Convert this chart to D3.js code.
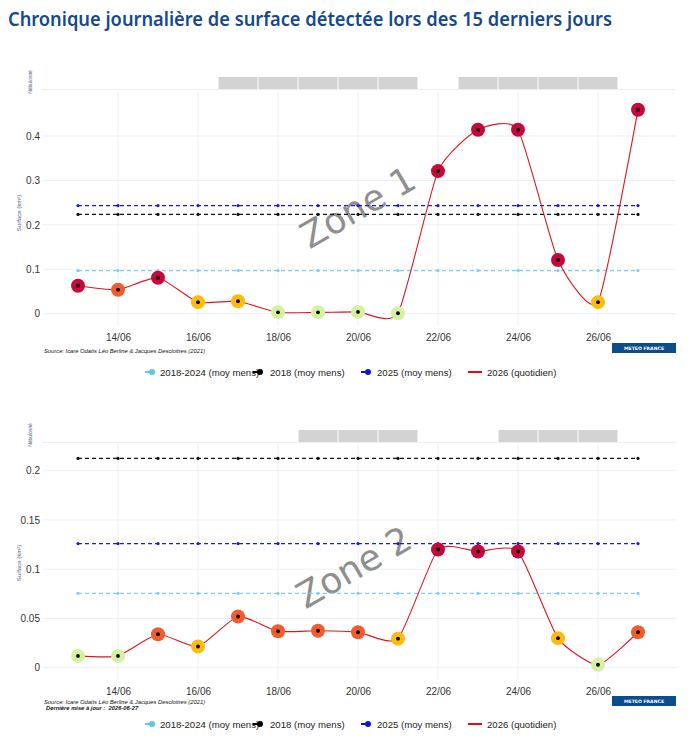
<!DOCTYPE html>
<html>
<head>
<meta charset="utf-8">
<script src="https://cdn.jsdelivr.net/npm/d3@7"></script>
<style>
  body { margin: 0; background: #fff; }
  svg { display: block; }
</style>
</head>
<body>
<div id="vis"></div>
<script>
// Declare data
const DAYS = ["2026-06-13", "2026-06-14", "2026-06-15", "2026-06-16", "2026-06-17",
              "2026-06-18", "2026-06-19", "2026-06-20", "2026-06-21", "2026-06-22",
              "2026-06-23", "2026-06-24", "2026-06-25", "2026-06-26", "2026-06-27"];
const X_TICKS = ["2026-06-14", "2026-06-16", "2026-06-18", "2026-06-20",
                 "2026-06-22", "2026-06-24", "2026-06-26"];

const ZONE1_VALUES = [0.063, 0.054, 0.081, 0.026, 0.028, 0.003, 0.003, 0.004, 0.001,
                      0.321, 0.414, 0.414, 0.121, 0.026, 0.459];
const ZONE1_CLASSES = ["c", "o", "c", "y", "y", "g", "g", "g", "g", "c", "c", "c", "c", "y", "c"];
const ZONE1_MEANS = [0.097, 0.2235, 0.2435];   // 2018-2024, 2018, 2025
const ZONE1_CLOUDY = ["2026-06-17", "2026-06-18", "2026-06-19", "2026-06-20", "2026-06-21",
                      "2026-06-23", "2026-06-24", "2026-06-25", "2026-06-26"];
const ZONE1_Y_TICKS = [0, 0.1, 0.2, 0.3, 0.4];

const ZONE2_VALUES = [0.012, 0.012, 0.034, 0.0215, 0.052, 0.037, 0.0375, 0.036, 0.0295,
                      0.120, 0.118, 0.118, 0.030, 0.003, 0.036];
const ZONE2_CLASSES = ["g", "g", "o", "y", "o", "o", "o", "o", "y", "c", "c", "c", "y", "g", "o"];
const ZONE2_MEANS = [0.0755, 0.2125, 0.126];
const ZONE2_CLOUDY = ["2026-06-19", "2026-06-20", "2026-06-21",
                      "2026-06-24", "2026-06-25", "2026-06-26"];
const ZONE2_Y_TICKS = [0, 0.05, 0.1, 0.15, 0.2];

const LEGEND = ["2018-2024 (moy mens)", "2018 (moy mens)", "2025 (moy mens)", "2026 (quotidien)"];

// Declare constants
const FRAME_WIDTH = 688;
const FRAME_HEIGHT = 738;
const MEAN_COLORS = ["#7fd0ee", "#111111", "#1a1ad0"];
const LEGEND_COLORS = ["#5cc3ee", "#000000", "#1010e0", "#e00b0b"];
const POINT_COLORS = {c: "#c6093b", o: "#f45b2c", y: "#fbbc0c", g: "#d5f1a0"};
const GRID = "#ebeff5";
const parse = d3.timeParse("%Y-%m-%d");

const SVG = d3.select("#vis")
  .append("svg")
    .attr("width", FRAME_WIDTH)
    .attr("height", FRAME_HEIGHT);

SVG.append("text")
  .attr("x", 8)
  .attr("y", 26)
  .attr("font-family", "Noto Sans")
  .attr("font-weight", 600)
  .attr("font-size", "20px")
  .attr("fill", "#16498a")
  .attr("textLength", 604)
  .attr("lengthAdjust", "spacingAndGlyphs")
  .text("Chronique journalière de surface détectée lors des 15 derniers jours");

const X_SCALE = d3.scaleTime()
  .domain([parse(DAYS[0]), parse(DAYS[DAYS.length - 1])])
  .range([78, 638]);

function panel(cfg) {
  const data = DAYS.map((d, i) => ({date: parse(d), value: cfg.values[i], cls: cfg.classes[i]}));

  const Y_SCALE = d3.scaleLinear()
    .domain([0, cfg.yMax])
    .range([cfg.y0, cfg.yTop]);

  const g = SVG.append("g");

  // nebulosite strip
  g.selectAll(".cloud")
    .data(cfg.cloudy)
    .enter()
    .append("rect")
      .attr("x", (d) => X_SCALE(parse(d)) - 19.5)
      .attr("y", cfg.stripTop)
      .attr("width", 39)
      .attr("height", 12)
      .attr("fill", "#d3d3d3");

  g.append("line")
    .attr("x1", 42).attr("x2", 676)
    .attr("y1", cfg.stripTop + 12.5).attr("y2", cfg.stripTop + 12.5)
    .attr("stroke", GRID);

  g.append("text")
    .attr("transform", "translate(32," + (cfg.stripTop + 5) + ") rotate(-90)")
    .attr("text-anchor", "middle")
    .attr("font-family", "Liberation Sans")
    .attr("font-size", "5px")
    .attr("fill", "#52608a")
    .text("Nébulosité");

  // grid
  g.selectAll(".hgrid")
    .data(cfg.yTicks)
    .enter()
    .append("line")
      .attr("x1", 43).attr("x2", 676)
      .attr("y1", (d) => Y_SCALE(d)).attr("y2", (d) => Y_SCALE(d))
      .attr("stroke", GRID);

  g.selectAll(".vgrid")
    .data(X_TICKS)
    .enter()
    .append("line")
      .attr("x1", (d) => X_SCALE(parse(d))).attr("x2", (d) => X_SCALE(parse(d)))
      .attr("y1", cfg.stripTop + 15).attr("y2", cfg.y0 + 12)
      .attr("stroke", GRID);

  // axes
  const yAxis = g.append("g")
    .attr("transform", "translate(44,0)")
    .call(d3.axisLeft(Y_SCALE).tickValues(cfg.yTicks).tickSize(0).tickPadding(4)
      .tickFormat((d) => String(d)));
  yAxis.select(".domain").remove();
  yAxis.selectAll("text")
    .attr("font-family", "Liberation Sans")
    .attr("font-size", "10px")
    .attr("fill", "#333");

  const xAxis = g.append("g")
    .attr("transform", "translate(0," + (cfg.y0 + 17) + ")")
    .call(d3.axisBottom(X_SCALE).tickValues(X_TICKS.map(parse)).tickSize(0)
      .tickFormat(d3.timeFormat("%d/%m")));
  xAxis.select(".domain").remove();
  xAxis.selectAll("text")
    .attr("font-family", "Liberation Sans")
    .attr("font-size", "10px")
    .attr("fill", "#333");

  g.append("text")
    .attr("transform", "translate(21," + cfg.labelY + ") rotate(-90)")
    .attr("text-anchor", "middle")
    .attr("font-family", "Liberation Sans")
    .attr("font-size", "6px")
    .attr("fill", "#52608a")
    .text("Surface (km²)");

  // zone label
  g.append("text")
    .attr("transform", "translate(" + cfg.zoneX + "," + cfg.zoneY + ") rotate(-30)")
    .attr("text-anchor", "middle")
    .attr("font-family", "DejaVu Sans")
    .attr("font-size", "36px")
    .attr("fill", "#8f8f8f")
    .text(cfg.zone);

  // mean lines
  cfg.means.forEach((m, k) => {
    g.append("line")
      .attr("x1", X_SCALE(data[0].date)).attr("x2", X_SCALE(data[data.length - 1].date))
      .attr("y1", Y_SCALE(m)).attr("y2", Y_SCALE(m))
      .attr("stroke", MEAN_COLORS[k])
      .attr("stroke-width", 1.2)
      .attr("stroke-dasharray", "4,3");
    g.selectAll(".mdot" + k)
      .data(data)
      .enter()
      .append("circle")
        .attr("cx", (d) => X_SCALE(d.date))
        .attr("cy", Y_SCALE(m))
        .attr("r", 1.6)
        .attr("fill", MEAN_COLORS[k]);
  });

  // daily line
  const line = d3.line()
    .x((d) => X_SCALE(d.date))
    .y((d) => Y_SCALE(d.value))
    .curve(d3.curveCardinal.tension(0.45));

  g.append("path")
    .datum(data)
    .attr("d", line)
    .attr("fill", "none")
    .attr("stroke", "#e0161c")
    .attr("stroke-width", 1.1);

  g.selectAll(".pt")
    .data(data)
    .enter()
    .append("circle")
      .attr("cx", (d) => X_SCALE(d.date))
      .attr("cy", (d) => Y_SCALE(d.value))
      .attr("r", 7)
      .attr("fill", (d) => POINT_COLORS[d.cls]);

  g.selectAll(".ptc")
    .data(data)
    .enter()
    .append("circle")
      .attr("cx", (d) => X_SCALE(d.date))
      .attr("cy", (d) => Y_SCALE(d.value))
      .attr("r", 1.9)
      .attr("fill", "#000");

  // source + logo
  g.append("text")
    .attr("x", 44).attr("y", cfg.sourceY)
    .attr("font-family", "Liberation Sans")
    .attr("font-style", "italic")
    .attr("font-size", "5.8px")
    .attr("fill", "#111")
    .text("Source: Icare Odatis Léo Berline & Jacques Descloitres (2021)");

  if (cfg.updated) {
    g.append("text")
      .attr("x", 46).attr("y", cfg.sourceY + 6)
      .attr("font-family", "Liberation Sans")
      .attr("font-style", "italic")
      .attr("font-weight", "bold")
      .attr("font-size", "5.8px")
      .attr("fill", "#111")
      .attr("xml:space", "preserve")
      .text("Dernière mise à jour :  " + cfg.updated);
  }

  g.append("rect")
    .attr("x", 612).attr("y", cfg.logoY)
    .attr("width", 64).attr("height", 10)
    .attr("fill", "#0b4d8c");
  g.append("text")
    .attr("x", 644).attr("y", cfg.logoY + 6.8)
    .attr("text-anchor", "middle")
    .attr("font-family", "DejaVu Sans")
    .attr("font-weight", "bold")
    .attr("font-size", "4.6px")
    .attr("fill", "#fff")
    .text("METEO FRANCE");

  // legend
  const legendX = [145, 253, 361, 468];
  const textX = [160, 270, 377, 487];
  LEGEND.forEach((name, k) => {
    const ly = cfg.legendY;
    if (k < 3) {
      g.append("line")
        .attr("x1", legendX[k]).attr("x2", legendX[k] + 8)
        .attr("y1", ly).attr("y2", ly)
        .attr("stroke", LEGEND_COLORS[k]).attr("stroke-width", 2);
      g.append("circle")
        .attr("cx", legendX[k] + 7).attr("cy", ly).attr("r", 3)
        .attr("fill", LEGEND_COLORS[k]);
    } else {
      g.append("line")
        .attr("x1", legendX[k]).attr("x2", legendX[k] + 14)
        .attr("y1", ly).attr("y2", ly)
        .attr("stroke", LEGEND_COLORS[k]).attr("stroke-width", 2);
    }
    g.append("text")
      .attr("x", textX[k]).attr("y", ly + 3.5)
      .attr("font-family", "Liberation Sans")
      .attr("font-size", "9.6px")
      .attr("fill", "#222")
      .text(name);
  });
}

panel({values: ZONE1_VALUES, classes: ZONE1_CLASSES, means: ZONE1_MEANS, cloudy: ZONE1_CLOUDY,
       yTicks: ZONE1_Y_TICKS, yMax: 0.4, y0: 313.7, yTop: 136, stripTop: 77, labelY: 213,
       zone: "Zone 1", zoneX: 364, zoneY: 218, sourceY: 353, logoY: 343, legendY: 372});

panel({values: ZONE2_VALUES, classes: ZONE2_CLASSES, means: ZONE2_MEANS, cloudy: ZONE2_CLOUDY,
       yTicks: ZONE2_Y_TICKS, yMax: 0.2, y0: 667.7, yTop: 470.7, stripTop: 430, labelY: 563,
       zone: "Zone 2", zoneX: 360, zoneY: 578, sourceY: 704, logoY: 696, legendY: 724,
       updated: "2026-06-27"});
</script>
</body>
</html>
